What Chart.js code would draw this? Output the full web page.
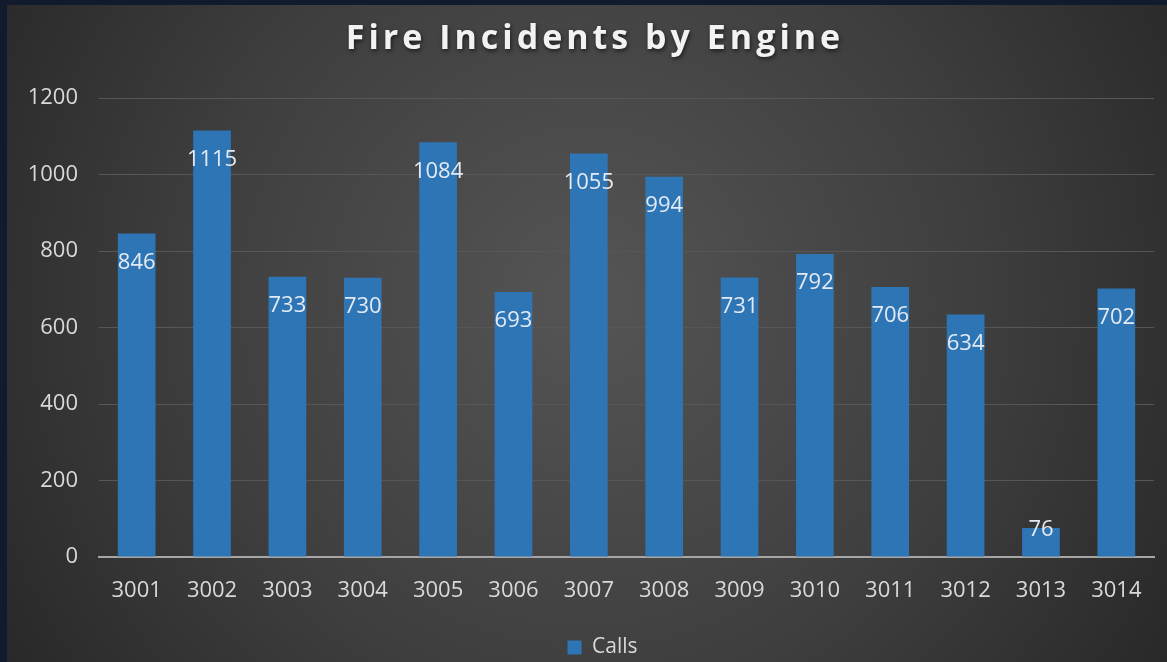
<!DOCTYPE html>
<html><head><meta charset="utf-8">
<script src="https://cdn.jsdelivr.net/npm/chart.js@4"></script>
<style>
html,body{margin:0;padding:0;background:#121a2e;width:1167px;height:662px;overflow:hidden}
#wrap{position:absolute;left:7px;top:5px;width:1160px;height:657px}
</style></head><body>
<div id="wrap"><canvas id="c" width="1160" height="657"></canvas></div>
<script>
const categories = ["3001","3002","3003","3004","3005","3006","3007","3008","3009","3010","3011","3012","3013","3014"];
const calls = [846,1115,733,730,1084,693,1055,994,731,792,706,634,76,702];
const yTicks = [0,200,400,600,800,1000,1200];
const seriesName = "Calls";
const titleText = "Fire Incidents by Engine";

const bgPlugin = {
  id:'bg',
  afterLayout(chart){
    if (chart.legend) { chart.legend.left += 22; chart.legend.right += 22; }
  },
  beforeDraw(chart){
    const {ctx,width,height} = chart;
    ctx.save();
    const g = ctx.createRadialGradient(width*0.5,height*0.45,0,width*0.5,height*0.45,width*0.62);
    g.addColorStop(0,'#555555');
    g.addColorStop(0.55,'#3e3e3e');
    g.addColorStop(1,'#262626');
    ctx.fillStyle = g;
    ctx.fillRect(0,0,width,height);
    ctx.restore();
  },
  afterDraw(chart){
    const {ctx} = chart;
    ctx.save();
    ctx.font = 'bold 34px "Open Sans", sans-serif';
    ctx.letterSpacing = '4px';
    ctx.textAlign = 'center';
    ctx.textBaseline = 'alphabetic';
    ctx.shadowColor = 'rgba(0,0,0,0.6)';
    ctx.shadowBlur = 4;
    ctx.shadowOffsetX = 1;
    ctx.shadowOffsetY = 2;
    ctx.fillStyle = '#f2f2f2';
    ctx.fillText(titleText, 588, 44);
    ctx.restore();
  }
};
const labelPlugin = {
  id:'dl',
  afterDatasetsDraw(chart){
    const {ctx} = chart;
    const meta = chart.getDatasetMeta(0);
    ctx.save();
    ctx.font = '22px "Open Sans", sans-serif';
    ctx.fillStyle = '#e3eaf3';
    ctx.textAlign = 'center';
    ctx.textBaseline = 'middle';
    meta.data.forEach((bar,i)=>{
      const h = bar.base - bar.y;
      ctx.fillText(String(calls[i]), bar.x, bar.y + (h > 50 ? 29 : 2));
    });
    ctx.restore();
  }
};

new Chart(document.getElementById('c'),{
  type:'bar',
  data:{labels:categories,datasets:[{label:seriesName,data:calls,backgroundColor:'#2e75b6',barPercentage:0.5,categoryPercentage:1}]},
  options:{
    responsive:false,animation:false,
    layout:{padding:{left:0,right:13,top:93,bottom:-6}},
    plugins:{
      title:{display:false},
      legend:{position:'bottom',labels:{color:'#d9d9d9',font:{family:'"Open Sans", sans-serif',size:21},boxWidth:14,boxHeight:14,padding:4}},
      tooltip:{enabled:false}
    },
    scales:{
      x:{afterFit(s){s.height=76;},grid:{display:false,drawTicks:false},border:{display:true,color:'#a6a6a6',width:2},
        ticks:{color:'#d9d9d9',font:{family:'"Open Sans", sans-serif',size:22},padding:21}},
      y:{min:0,max:1200,afterFit(s){s.width=92;},
        afterBuildTicks(s){s.ticks=yTicks.map(v=>({value:v}));},
        grid:{color:'#575757',lineWidth:1,drawTicks:false},border:{display:false},
        ticks:{color:'#d9d9d9',font:{family:'"Open Sans", sans-serif',size:22},padding:21,callback:(v)=>String(v)}}
    }
  },
  plugins:[bgPlugin,labelPlugin]
});
</script></body></html>
